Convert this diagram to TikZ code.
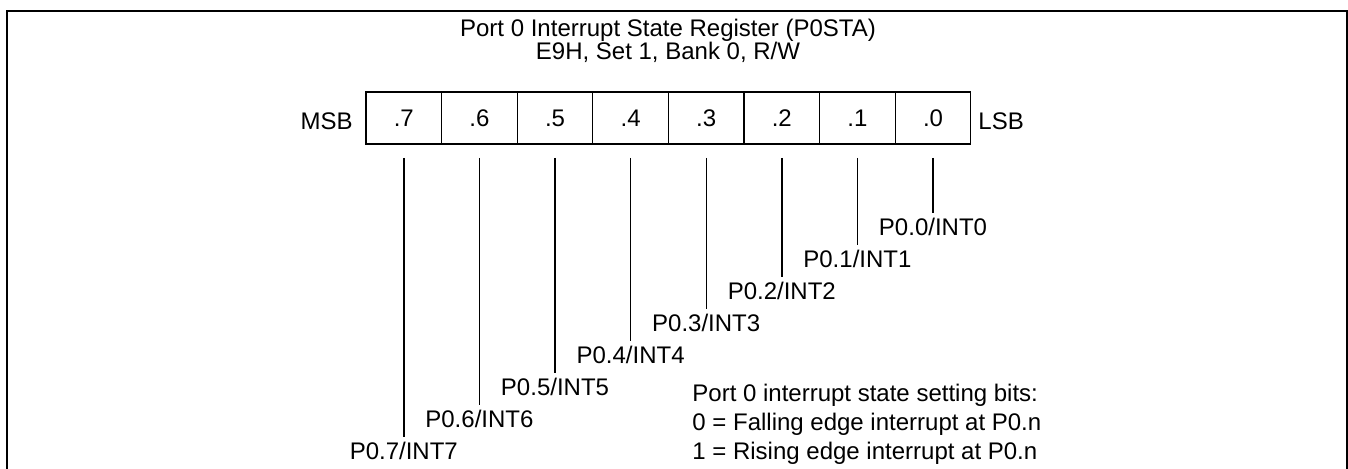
\documentclass[tikz,border=0pt]{standalone}
\usepackage{fontspec}
\setmainfont{Liberation Sans}
\begin{document}
\begin{tikzpicture}[x=0.5pt,y=-0.5pt,
  every node/.style={font=\fontsize{12}{14}\selectfont, inner sep=0pt},
  cell/.style={draw, line width=0.6pt, minimum width=37.8pt, minimum height=26pt, anchor=center},
  lead/.style={line width=0.7pt},
  frame/.style={line width=1pt},
  lbl/.style={anchor=base}]
\useasboundingbox (0,0) rectangle (1348,469);
% frame (open at bottom)
\draw[frame] (7,469) -- (7,11) -- (1346.5,11) -- (1346.5,469);
% title
\node[anchor=base] (t1) at (668,37) {Port 0 Interrupt State Register (P0STA)};
\node[anchor=base] (t2) at (668,60) {E9H, Set 1, Bank 0, R/W};
% register cells
\foreach \i/\x in {7/403.8,6/479.4,5/555,4/630.6,3/706.2,2/781.8,1/857.4,0/933}{
  \node[cell] (b\i) at (\x,118) {.\i};
}
\node[anchor=base east] (msb) at (353,130) {MSB};
\node[anchor=base west] (lsb) at (978,130) {LSB};
% leads and labels
\foreach \i/\x in {7/403.8,6/479.4,5/555,4/630.6,3/706.2,2/781.8,1/857.4,0/933}{
  \pgfmathsetmacro{\yend}{213+32*\i}
  \pgfmathsetmacro{\ybase}{236+32*\i}
  \coordinate (s\i) at (\x,158);
  \coordinate (e\i) at (\x,\yend);
  \draw[lead] (s\i) -- (e\i);
  \node[lbl] (l\i) at (\x,\ybase) {P0.\i/INT\i};
}
% legend
\node[anchor=base west] (n1) at (692,402) {Port 0 interrupt state setting bits:};
\node[anchor=base west] (n2) at (692,431) {0 = Falling edge interrupt at P0.n};
\node[anchor=base west] (n3) at (692,460) {1 = Rising edge interrupt at P0.n};
\end{tikzpicture}
\end{document}
